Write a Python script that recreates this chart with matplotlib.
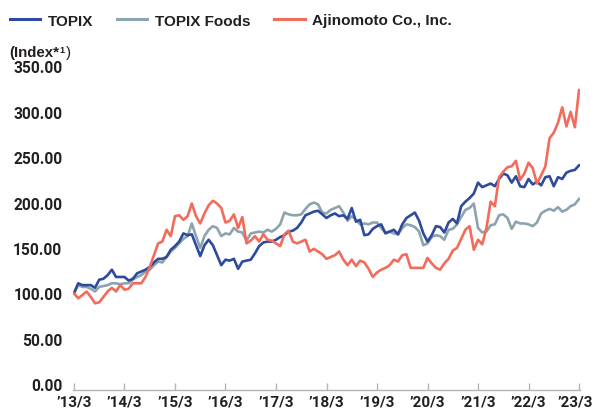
import numpy as np
import matplotlib
matplotlib.use("Agg")
import matplotlib.pyplot as plt
from matplotlib.transforms import ScaledTranslation

# ---------------- data (monthly, 2013/3 = 100) ----------------
tick_labels = ["\u201913/3", "\u201914/3", "\u201915/3", "\u201916/3", "\u201917/3", "\u201918/3",
               "\u201919/3", "\u201920/3", "\u201921/3", "\u201922/3", "\u201923/3"]
series_names = ["TOPIX", "TOPIX Foods", "Ajinomoto Co., Inc."]

topix = [100, 111, 109, 109, 109, 106, 115, 116, 120, 126, 118, 118, 118, 114, 116, 122, 124, 126, 129, 134,
         138, 138, 140, 148, 152, 157, 166, 164, 165,
         153, 141, 153, 159, 153, 142, 131, 137, 136, 138, 127, 135, 136, 137, 144, 152, 156, 157, 157, 159,
         162, 164, 168, 169, 172, 178, 186, 188, 190, 191,
         187, 183, 186, 188, 185, 186, 182, 194, 179, 181, 164, 165, 171, 174, 176, 166, 168, 170, 165, 176,
         183, 186, 189, 180, 166, 157, 164, 174, 173,
         167, 178, 182, 177, 196, 201, 205, 210, 222, 217, 219, 221, 218, 226, 232, 230, 222, 229, 218, 217,
         226, 220, 223, 219, 228, 229, 218, 228, 226, 233, 235, 236, 241]

topix_foods = [100, 109, 107, 107, 105, 102, 107, 108, 109, 111, 111, 110, 111, 111, 115, 118, 120, 124, 126, 131,
               135, 134, 140, 146, 150, 155, 160, 163, 177,
               163, 150, 163, 170, 174, 172, 163, 166, 165, 172, 168, 167, 158, 166, 167, 168, 167, 170, 168, 171,
               176, 189, 187, 186, 186, 187, 193, 198, 200, 198,
               189, 188, 192, 194, 196, 189, 180, 185, 181, 176, 177, 176, 178, 178, 172, 167, 168, 166, 165, 172,
               176, 175, 173, 168, 153, 155, 162, 164, 163,
               159, 170, 171, 176, 184, 192, 194, 199, 172, 167, 168, 175, 176, 186, 187, 183, 171, 179, 177, 177,
               176, 174, 178, 188, 191, 193, 191, 195, 190, 192, 196, 198, 204]

ajinomoto = [100, 94.5, 98, 102, 96, 89, 90, 96, 102, 106, 102, 109, 104, 105, 111, 111, 111, 118, 129, 142,
             155, 157, 170, 163, 185, 186, 181, 185, 199,
             185, 177, 188, 197, 202, 199, 194, 178, 180, 187, 172, 184, 155, 158, 163, 157, 165, 159, 158, 155,
             152, 165, 169, 157, 155, 157, 159, 146, 149, 146,
             143, 138, 140, 142, 146, 137, 131, 137, 130, 136, 134, 127, 118, 123, 126, 128, 131, 137, 135, 142,
             143, 128, 128, 128, 128, 139, 133, 128, 126,
             133, 138, 147, 150, 160, 170, 174, 148, 159, 154, 172, 201, 196, 228, 234, 239, 240, 246, 225, 232,
             244, 238, 221, 230, 240, 271, 277, 288, 305, 284, 300, 283, 324]

yticks = [0, 50, 100, 150, 200, 250, 300, 350]

colors = ["#2D4A9C", "#8CA4AE", "#F26B5B"]

legend_font = ["Liberation Sans", "DejaVu Sans"]
tick_font = ["Roboto", "Liberation Sans", "DejaVu Sans"]
text_color = "#231F20"

W, H = 594, 410
fig = plt.figure(figsize=(W / 100, H / 100), dpi=100)

# axes placement (pixel based)
x_left_px, x_right_px = 72.7, 580.3
y_bottom_px, y_top_px = 385.0, 67.5
ax = fig.add_axes([x_left_px / W, 1 - y_bottom_px / H,
                   (x_right_px - x_left_px) / W, (y_bottom_px - y_top_px) / H])

n = len(topix)
x = np.arange(n)

l_foods, = ax.plot(x, topix_foods, color=colors[1], lw=1.9, solid_joinstyle="round", zorder=2)
l_topix, = ax.plot(x, topix, color=colors[0], lw=1.9, solid_joinstyle="round", zorder=3)
l_ajino, = ax.plot(x, ajinomoto, color=colors[2], lw=1.9, solid_joinstyle="round", zorder=4)

ax.set_xlim(-0.3, n - 1 + 0.3)
ax.set_ylim(0, 350)

for s in ["top", "right", "left"]:
    ax.spines[s].set_visible(False)
ax.spines["bottom"].set_position(("outward", 4))
ax.spines["bottom"].set_color("#B5B5B5")
ax.spines["bottom"].set_linewidth(1.0)

ax.set_xticks(np.arange(0, n, 12))
ax.set_xticklabels(tick_labels)
ax.set_yticks(yticks)
ax.set_yticklabels([f"{v:.2f}" for v in yticks])

ax.tick_params(axis="x", direction="in", length=5, width=1.0, color="#B5B5B5", pad=3.5,
               labelsize=11.0, labelcolor=text_color)
ax.tick_params(axis="y", length=0, pad=7.5, labelsize=11.2, labelcolor=text_color)
for lab in ax.get_xticklabels() + ax.get_yticklabels():
    lab.set_fontfamily(tick_font)
    lab.set_fontweight("bold")

# nudge the last x label a little to the left so it stays inside the figure
last = ax.get_xticklabels()[-1]
last.set_transform(last.get_transform() + ScaledTranslation(-4 / 100, 0, fig.dpi_scale_trans))

# legend
leg = fig.legend([l_topix, l_foods, l_ajino], series_names, loc="center left",
                 bbox_to_anchor=(9.5 / W, 1 - 21.5 / H), ncol=3, frameon=False,
                 prop={"family": legend_font, "weight": "bold", "size": 11},
                 handlelength=2.0, handletextpad=0.5, columnspacing=1.55,
                 borderpad=0, borderaxespad=0)
for t in leg.get_texts():
    t.set_color(text_color)
for h in leg.legend_handles:
    h.set_linewidth(2.2)

# "(Index*1)" label
base_y = 1 - 57.5 / H
t1 = fig.text(9.0 / W, base_y, "(Index*", family=legend_font, weight="bold", size=10.8,
              color=text_color, va="baseline")
fig.canvas.draw()
r = fig.canvas.get_renderer()
bb = t1.get_window_extent(r)
t2 = fig.text((bb.x1 + 0.5) / W, base_y + 4.5 / H, "1", family=legend_font, weight="bold", size=6.5,
              color=text_color, va="baseline")
bb2 = t2.get_window_extent(r)
fig.text((bb2.x1 + 0.8) / W, base_y, ")", family=legend_font, weight="normal", size=10.8,
         color=text_color, va="baseline")

fig.savefig("out.png", dpi=100)
